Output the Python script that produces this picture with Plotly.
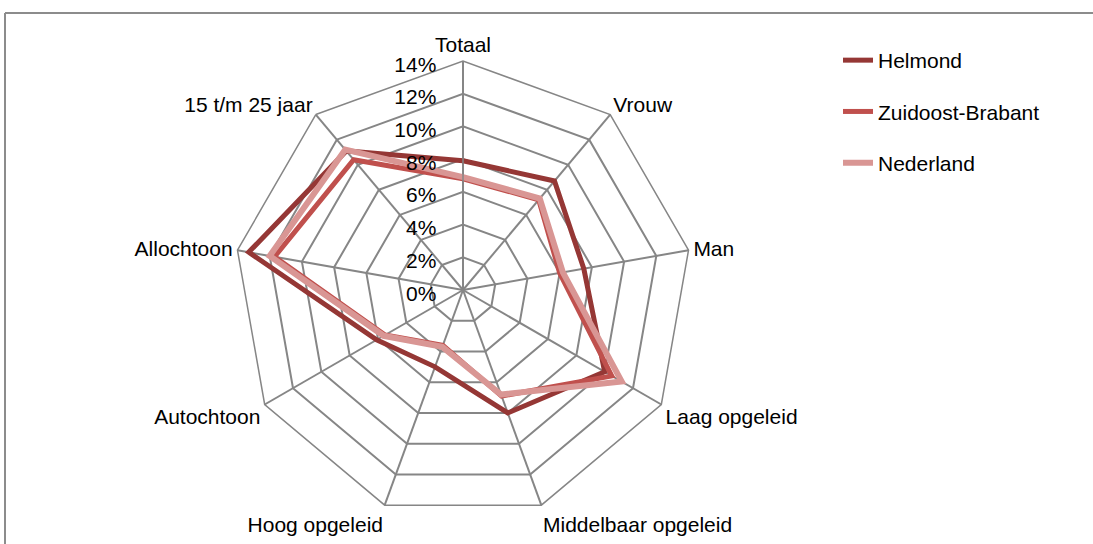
import plotly.graph_objects as go

# Categorieen (met de klok mee vanaf boven)
categorieen = ["Totaal", "Vrouw", "Man", "Laag opgeleid", "Middelbaar opgeleid",
               "Hoog opgeleid", "Autochtoon", "Allochtoon", "15 t/m 25 jaar"]

# Waarden in procenten
helmond = [7.9, 8.7, 7.5, 10.0, 8.0, 5.0, 6.1, 13.3, 11.1]
zuidoost_brabant = [6.8, 7.2, 6.0, 10.5, 6.9, 3.6, 5.5, 11.7, 10.4]
nederland = [6.9, 7.3, 6.2, 11.2, 6.8, 3.7, 5.6, 12.0, 11.2]

radiale_ticks = [0, 2, 4, 6, 8, 10, 12, 14]
radiale_labels = [f"{t}%" for t in radiale_ticks]

COR_HELMOND = "#953735"
COR_ZOB = "#C0504D"
COR_NL = "#D99694"
COR_GRID = "#868686"
FONTE = "Liberation Sans, Arial, sans-serif"

W, H = 1093, 544
CX, CY, R = 463, 290, 229


def sluit(v):
    return v + v[:1]


fig = go.Figure()
for naam, waarden, kleur, breedte in [
    ("Helmond", helmond, COR_HELMOND, 5),
    ("Zuidoost-Brabant", zuidoost_brabant, COR_ZOB, 5),
    ("Nederland", nederland, COR_NL, 6),
]:
    fig.add_trace(go.Scatterpolar(
        r=sluit(waarden), theta=sluit(categorieen),
        mode="lines", name=naam,
        line=dict(color=kleur, width=breedte),
        legendgroup=naam,
    ))

fig.update_layout(
    width=W, height=H,
    margin=dict(l=0, r=0, t=0, b=0),
    paper_bgcolor="white",
    font=dict(family=FONTE, size=21, color="black"),
    polar=dict(
        domain=dict(x=[(CX - R) / W, (CX + R) / W],
                    y=[(H - CY - R) / H, (H - CY + R) / H]),
        gridshape="linear",
        bgcolor="white",
        angularaxis=dict(
            rotation=90, direction="clockwise",
            categoryorder="array", categoryarray=categorieen,
            showline=True, linecolor=COR_GRID, linewidth=1.5,
            showgrid=True, gridcolor=COR_GRID, gridwidth=1.5,
            ticks="", tickfont=dict(size=21),
        ),
        radialaxis=dict(
            range=[0, 14], tickvals=radiale_ticks, ticktext=radiale_labels,
            angle=90, side="counterclockwise",
            showline=True, linecolor=COR_GRID, linewidth=1.5,
            showgrid=True, gridcolor=COR_GRID, gridwidth=1.5,
            ticks="outside", ticklen=7, tickcolor="rgba(0,0,0,0)",
            tickfont=dict(size=21),
        ),
    ),
    showlegend=True,
    legend=dict(
        x=838 / W, y=1 - 40 / H, xanchor="left", yanchor="top",
        font=dict(size=21), tracegroupgap=21,
        bgcolor="rgba(0,0,0,0)",
    ),
)

# kader rond de grafiek (alleen boven en links zichtbaar)
kader = dict(color="#8c8c8c", width=2)
fig.add_shape(type="line", xref="paper", yref="paper",
              x0=5 / W, x1=1.2, y0=1 - 13 / H, y1=1 - 13 / H,
              line=kader, layer="below")
fig.add_shape(type="line", xref="paper", yref="paper",
              x0=5 / W, x1=5 / W, y0=-0.2, y1=1 - 13 / H,
              line=kader, layer="below")

fig.write_html("out.html", config={"displayModeBar": False},
               post_script="document.body.style.margin='0';")
